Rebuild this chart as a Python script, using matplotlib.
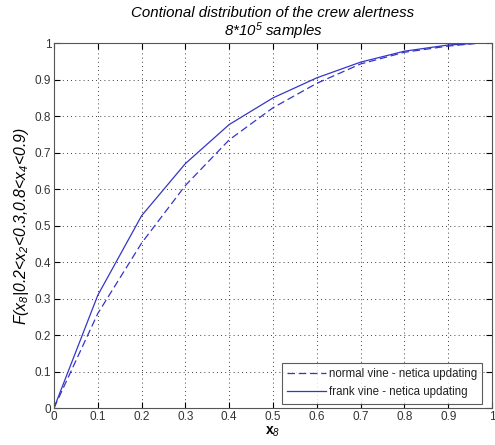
import matplotlib
matplotlib.use("Agg")
import matplotlib.pyplot as plt

plt.rcParams['font.family'] = ['Liberation Sans', 'DejaVu Sans']
plt.rcParams['mathtext.fontset'] = 'custom'
plt.rcParams['mathtext.rm'] = 'Liberation Sans:italic'
plt.rcParams['mathtext.it'] = 'Liberation Sans:italic'
plt.rcParams['mathtext.bf'] = 'Liberation Sans:bold'

x_vals = [0.0, 0.1, 0.2, 0.3, 0.4, 0.5, 0.6, 0.7, 0.8, 0.9, 0.97]
normal_vine = [0.0, 0.259, 0.452, 0.610, 0.735, 0.823, 0.890, 0.943, 0.975, 0.992, 1.0]
frank_vine = [0.0, 0.309, 0.527, 0.670, 0.777, 0.850, 0.905, 0.948, 0.978, 0.995, 1.0]
ticks = [0, 0.1, 0.2, 0.3, 0.4, 0.5, 0.6, 0.7, 0.8, 0.9, 1]
tick_labels = ['0', '0.1', '0.2', '0.3', '0.4', '0.5', '0.6', '0.7', '0.8', '0.9', '1']

fig = plt.figure(figsize=(4.95, 4.45), dpi=100)
ax = fig.add_axes([0.109, 0.083, 0.885, 0.820])

color = '#3535c8'
ax.plot(x_vals, normal_vine, color=color, lw=0.9, ls=(0, (6, 3)), label='normal vine - netica updating')
ax.plot(x_vals, frank_vine, color=color, lw=0.9, ls='-', label='frank vine - netica updating')

ax.set_xlim(0, 1)
ax.set_ylim(0, 1)
ax.set_xticks(ticks)
ax.set_xticklabels(tick_labels)
ax.set_yticks(ticks)
ax.set_yticklabels(tick_labels)
ax.tick_params(direction='in', length=4, labelsize=8.5, labelcolor='#333333', top=True, right=True, pad=2)
ax.grid(True, color='black', ls=(0, (1, 4)), lw=0.6)
for s in ax.spines.values():
    s.set_color('#555555')
    s.set_linewidth(0.8)

ax.set_title('Contional distribution of the crew alertness\n8*10$^5$ samples', fontsize=10.8, style='italic', pad=5, linespacing=1.05)
ax.set_xlabel(r'x$_8$', fontsize=10, fontweight='bold', labelpad=1)
ax.set_ylabel(r'F(x$_8$|0.2<x$_2$<0.3,0.8<x$_4$<0.9)', fontsize=11.3, style='italic', labelpad=3)

leg = ax.legend(loc='lower right', bbox_to_anchor=(0.977, 0.012), fontsize=8.3, frameon=True, fancybox=False,
                edgecolor='#333333', borderpad=0.45, handlelength=3.4, labelspacing=0.55, handletextpad=0.2,
                borderaxespad=0)
leg.get_frame().set_linewidth(0.8)
for t in leg.get_texts():
    t.set_color('#222222')

fig.savefig('out.png', dpi=100)
